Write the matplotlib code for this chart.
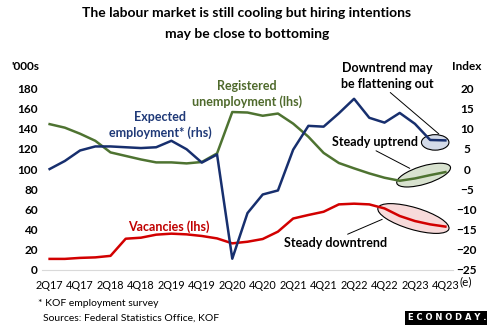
import numpy as np
import matplotlib.pyplot as plt
from matplotlib.patches import Ellipse
from matplotlib.transforms import ScaledTranslation

plt.rcParams['font.family'] = ['Lato', 'DejaVu Sans']

# Quarterly data, 2Q17 to 4Q23 (last quarter is an estimate)
quarters = ['2Q17', '3Q17', '4Q17', '1Q18', '2Q18', '3Q18', '4Q18', '1Q19', '2Q19',
            '3Q19', '4Q19', '1Q20', '2Q20', '3Q20', '4Q20', '1Q21', '2Q21', '3Q21',
            '4Q21', '1Q22', '2Q22', '3Q22', '4Q22', '1Q23', '2Q23', '3Q23', '4Q23']
vacancies = [11, 11, 12, 12.5, 14, 31, 32, 35, 36, 35.3, 33.7, 31.3, 26.4, 28, 30.7,
             38, 51, 54.5, 57.7, 65, 65.7, 65, 61, 53.5, 48.5, 45.2, 43]  # '000s, lhs
unemployment = [144.5, 141, 135, 128, 116.5, 113, 109.5, 106.6, 106.6, 105.6, 107,
                115.5, 156.5, 156, 152.8, 155, 145, 132, 116, 106, 100.7, 95.7, 91.4,
                88.4, 90.7, 94, 97]  # '000s, lhs
expected = [0, 2, 4.6, 5.6, 5.6, 5.4, 5.2, 5.4, 7.0, 4.9, 1.6, 3.6, -22.2, -10.9,
            -6.3, -5.3, 4.8, 10.7, 10.5, 13.8, 17.4, 12.7, 11.5, 13.9, 11.2, 7.2, 7.1]  # index, rhs

blue = '#172f6e'
green = '#4e7331'
red = '#d20000'
W, H = 487, 326


def fx(px):
    return px / W


def fy(py):
    return 1 - py / H


fig = plt.figure(figsize=(W / 100, H / 100), dpi=100)
ax = fig.add_axes([fx(42), fy(270), 411 / W, 181.7 / H])
ax2 = ax.twinx()

x = np.arange(len(quarters))

# highlight ellipses (size in inches, centred on data points)
def oval(axis, cx, cy, w, h, ang, fc):
    tr = fig.dpi_scale_trans + ScaledTranslation(cx, cy, axis.transData)
    e = Ellipse((0, 0), w, h, angle=ang, transform=tr, facecolor=fc,
                edgecolor='black', lw=0.8, zorder=1, clip_on=False)
    axis.add_patch(e)

oval(ax, 23.9, 51, 0.74, 0.22, -16.5, '#f7dada')
oval(ax, 24.57, 94, 0.56, 0.18, 17, '#d8e2cf')
oval(ax2, 25.33, 6.6, 0.275, 0.155, 0, '#d3dae8')

ax.plot(x, unemployment, color=green, lw=1.8, zorder=3)
ax.plot(x, vacancies, color=red, lw=1.8, zorder=3)
ax2.plot(x, expected, color=blue, lw=1.8, zorder=3)

ax.set_xlim(-0.5, len(quarters) - 0.5)
ax.set_ylim(0, 180)
ax2.set_ylim(-25, 20)
ax.set_yticks(range(0, 181, 20))
ax2.set_yticks(range(-25, 21, 5))
ax.set_xticks(x[::2])
ax.set_xticklabels(quarters[::2])

for s in ['top', 'left', 'right']:
    ax.spines[s].set_visible(False)
ax.spines['bottom'].set_color('#d9d9d9')
ax.spines['bottom'].set_linewidth(0.8)
ax2.set_frame_on(False)
ax.set_facecolor('none')

ax.tick_params(axis='x', length=0, pad=7, labelsize=7.8)
ax.tick_params(axis='y', length=0, pad=3, labelsize=8.5)
ax2.tick_params(axis='y', length=0, pad=10, labelsize=8.5)
for lab in ax2.get_yticklabels():
    lab.set_horizontalalignment('center')
for lab in ax.get_yticklabels() + ax2.get_yticklabels():
    lab.set_fontweight('bold')
fig.text(fx(460), fy(282), '(e)', ha='left', va='center', fontsize=8.5)

# title
fig.text(fx(247), fy(13), 'The labour market is still cooling but hiring intentions',
         ha='center', va='center', fontsize=10, fontweight='bold')
fig.text(fx(247), fy(34), 'may be close to bottoming',
         ha='center', va='center', fontsize=10, fontweight='bold')

# axis units
fig.text(fx(25), fy(67), "'000s", ha='center', va='center', fontsize=8.5, fontweight='bold')
fig.text(fx(467), fy(67), 'Index', ha='center', va='center', fontsize=8.5, fontweight='bold')

# series labels
fig.text(fx(160), fy(125), 'Expected\nemployment* (rhs)', ha='center', va='center',
         fontsize=9, fontweight='bold', color='#203a78', linespacing=1.35)
fig.text(fx(247), fy(94), 'Registered\nunemployment (lhs)', ha='center', va='center',
         fontsize=9, fontweight='bold', color='#4f6a2c', linespacing=1.35)
fig.text(fx(169), fy(227), 'Vacancies (lhs)', ha='center', va='center',
         fontsize=9, fontweight='bold', color='#c00000')

# trend call-outs
arrow = dict(arrowstyle='-', color='black', lw=0.7, shrinkA=0, shrinkB=0)
ax2.annotate('Downtrend may\nbe flattening out', xy=(25.57, 8.7), xycoords='data',
             xytext=(fx(387), fy(76)), textcoords='figure fraction',
             ha='center', va='center', fontsize=9, fontweight='bold',
             linespacing=1.35, arrowprops=dict(arrow, relpos=(0.5, 0)))
ax.annotate('Steady uptrend', xy=(23.66, 100.7), xycoords='data',
            xytext=(fx(375), fy(142)), textcoords='figure fraction',
            ha='center', va='center', fontsize=9, fontweight='bold',
            arrowprops=dict(arrow, relpos=(0.45, 0)))
ax.annotate('Steady downtrend', xy=(21.85, 50.2), xycoords='data',
            xytext=(fx(336), fy(243)), textcoords='figure fraction',
            ha='center', va='center', fontsize=9, fontweight='bold',
            arrowprops=dict(arrow, relpos=(0.55, 1)))

# footnotes
fig.text(fx(38), fy(304), '* KOF employment survey', ha='left', va='center', fontsize=7.5)
fig.text(fx(43), fy(318), 'Sources: Federal Statistics Office, KOF', ha='left', va='center',
         fontsize=7.5)
fig.text(fx(447), fy(318), 'E C O N O D A Y .', ha='center', va='center', fontsize=6,
         fontweight='bold', color='white', family='DejaVu Sans',
         bbox=dict(facecolor='black', edgecolor='none', pad=2))

fig.savefig('out.png', dpi=100)
